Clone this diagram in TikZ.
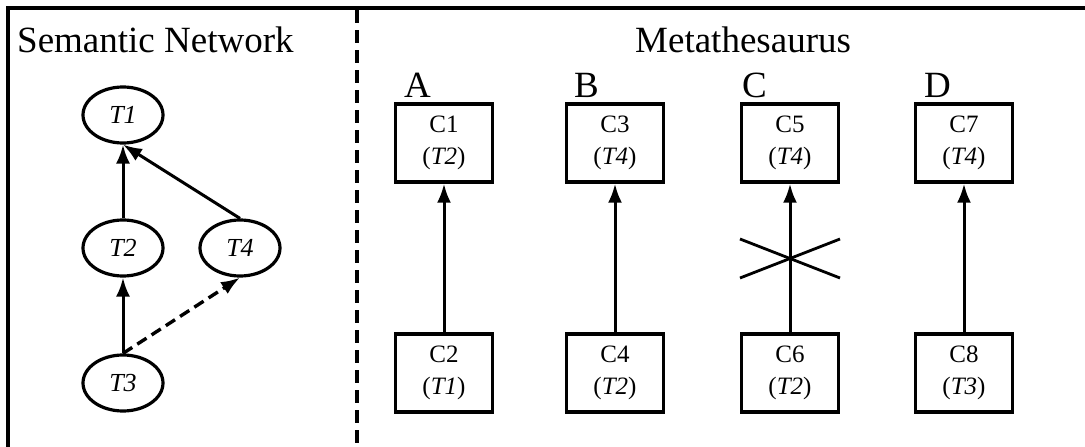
\documentclass[tikz,border=0pt]{standalone}
\usepackage{fontspec}
\setmainfont{Liberation Serif}
\usepackage{tikz}
\usetikzlibrary{shapes.geometric,arrows.meta,calc}
\tikzstyle{typeellipse} = [ellipse, draw=black, line width=3.2pt, minimum width=80pt, minimum height=56pt, inner sep=0pt, font=\fontsize{26}{28}\selectfont\itshape]
\tikzstyle{concept} = [rectangle, draw=black, line width=3.4pt, minimum width=97pt, minimum height=78pt, inner sep=0pt, align=center, font=\fontsize{25}{32}\selectfont]
\tikzstyle{heading} = [anchor=base west, inner sep=0pt, font=\fontsize{37}{40}\selectfont]
\tikzstyle{link} = [line width=3pt]

\begin{document}
\begin{tikzpicture}[x=1pt, y=-1pt, >={Latex[length=19pt,width=14pt]}]

        \useasboundingbox (0,0) rectangle (1085,447);

        \draw[line width=3.2pt] (8,447) -- (8,8) -- (1085,8);
        \draw[line width=3.4pt, dash pattern=on 13pt off 7pt] (357,10) -- (357,447);

        \node (semnet) [heading] at (17,52) {Semantic Network};
        \node (meta) [heading] at (635,52) {Metathesaurus};

        \node (t1) [typeellipse] at (123,115) {T1};
        \node (t2) [typeellipse] at (123,248) {T2};
        \node (t4) [typeellipse] at (240,248) {T4};
        \node (t3) [typeellipse] at (123,383) {T3};

        \draw[link, ->] (t2.north) -- (t1.south);
        \draw[link, ->] (t4.north) -- (t1.south);
        \draw[link, ->] (t3.north) -- (t2.south);
        \draw[link, ->, line width=3.4pt, dash pattern=on 11pt off 6pt] (t3.north) -- (t4.south);

        \node (c1) [concept] at (444,143) {C1\\(\textit{T2})};
        \node (c2) [concept] at (444,373) {C2\\(\textit{T1})};
        \node (c3) [concept] at (615,143) {C3\\(\textit{T4})};
        \node (c4) [concept] at (615,373) {C4\\(\textit{T2})};
        \node (c5) [concept] at (790,143) {C5\\(\textit{T4})};
        \node (c6) [concept] at (790,373) {C6\\(\textit{T2})};
        \node (c7) [concept] at (964,143) {C7\\(\textit{T4})};
        \node (c8) [concept] at (964,373) {C8\\(\textit{T3})};

        \node (casea) [heading] at ($(c1.north west)+(10,-5)$) {A};
        \node (caseb) [heading] at ($(c3.north west)+(9,-5)$) {B};
        \node (casec) [heading] at ($(c5.north west)+(2,-5)$) {C};
        \node (cased) [heading] at ($(c7.north west)+(10,-5)$) {D};

        \draw[link, ->] (c2) -- (c1);
        \draw[link, ->] (c4) -- (c3);
        \draw[link, ->] (c6) -- (c5);
        \draw[link, ->] (c8) -- (c7);

        \coordinate (cross) at ($(c6)!0.5!(c5)$);
        \draw[line width=2.8pt] ($(cross)+(-50,-19)$) -- ($(cross)+(50,20)$);
        \draw[line width=2.8pt] ($(cross)+(-50,20)$) -- ($(cross)+(50,-19)$);

    \end{tikzpicture}
\end{document}
